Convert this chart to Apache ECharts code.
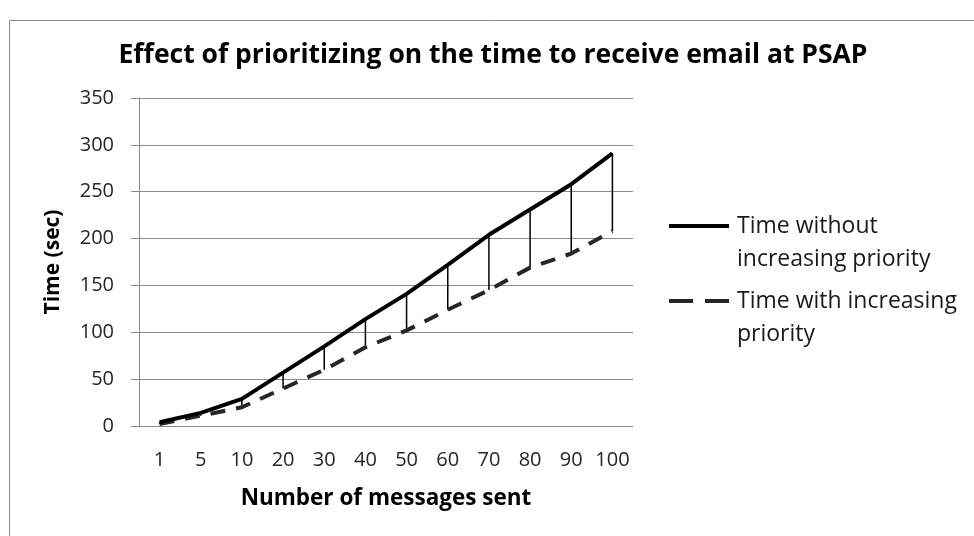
<!DOCTYPE html>
<html>
<head>
<meta charset="utf-8">
<script src="https://cdn.jsdelivr.net/npm/echarts@6/dist/echarts.min.js"></script>
<style>html,body{margin:0;padding:0;background:#fff}#c{width:974px;height:536px}</style>
</head>
<body>
<div id="c"></div>
<script>
const categories = ['1','5','10','20','30','40','50','60','70','80','90','100'];
const timeWithout = [4,14,29,57,85,114,141,172,204,231,258,291];
const timeWith = [2,11,20,40,60,84,102,124,145,169,184,208];
const seriesNames = ['Time without\nincreasing priority', 'Time with increasing\npriority'];
const yTicks = {min: 0, max: 350, interval: 50};

const FONT = 'Open Sans';
const chart = echarts.init(document.getElementById('c'), null, {renderer: 'canvas'});
const legendText = {fontFamily: FONT, fontSize: 23, color: '#1a1a1a', lineHeight: 33, padding: [0, 0, 0, 3]};
const legendBase = {
  left: 667, itemWidth: 60, itemHeight: 14, itemGap: 0, padding: 0,
  textStyle: legendText, selectedMode: false,
  itemStyle: {opacity: 0, borderWidth: 0},
  formatter: function (name) { return '\n' + name; }
};
chart.setOption({
  animation: false,
  backgroundColor: '#fff',
  title: {
    text: 'Effect of prioritizing on the time to receive email at PSAP',
    left: 492, top: 37, textAlign: 'center',
    textStyle: {fontFamily: FONT, fontWeight: 'bold', fontSize: 26.5, color: '#000'}
  },
  graphic: [{
    type: 'rect', shape: {x: 9.5, y: 20.5, width: 990, height: 600},
    style: {fill: 'none', stroke: '#8a8a8a', lineWidth: 1}, silent: true, z: -1
  }],
  legend: [
    Object.assign({}, legendBase, {data: [seriesNames[0]], top: 226 - 49.5, lineStyle: {width: 4}}),
    Object.assign({}, legendBase, {data: [seriesNames[1]], top: 301 - 49.5, lineStyle: {width: 4, type: [24, 12]}})
  ],
  grid: {left: 139, right: 341, top: 98, bottom: 110},
  xAxis: {
    type: 'category', data: categories, boundaryGap: true,
    axisLine: {show: true, lineStyle: {color: '#8c8c8c', width: 1}},
    axisTick: {show: false},
    axisLabel: {fontFamily: FONT, fontSize: 20, color: '#262626', margin: 24, interval: 0, hideOverlap: false},
    name: 'Number of messages sent', nameLocation: 'middle', nameGap: 61,
    nameTextStyle: {fontFamily: FONT, fontWeight: 'bold', fontSize: 22.5, color: '#000'}
  },
  yAxis: {
    type: 'value', min: yTicks.min, max: yTicks.max, interval: yTicks.interval,
    axisLine: {show: true, lineStyle: {color: '#8c8c8c', width: 1}},
    axisTick: {show: true, length: 8, lineStyle: {color: '#8c8c8c'}},
    splitLine: {show: true, lineStyle: {color: '#8c8c8c', width: 1}},
    axisLabel: {fontFamily: FONT, fontSize: 20, color: '#262626', margin: 25},
    name: 'Time (sec)', nameLocation: 'middle', nameGap: 75, nameRotate: 90,
    nameTextStyle: {fontFamily: FONT, fontWeight: 'bold', fontSize: 21, color: '#000'}
  },
  series: [
    {
      type: 'custom', name: 'drop', z: 1, silent: true,
      data: categories.map((c, i) => [i, timeWith[i], timeWithout[i]]),
      encode: {x: 0, y: [1, 2]},
      renderItem: function (params, api) {
        const lo = api.coord([api.value(0), api.value(1)]);
        const hi = api.coord([api.value(0), api.value(2)]);
        return {type: 'line', shape: {x1: lo[0], y1: lo[1], x2: hi[0], y2: hi[1]},
          style: {stroke: '#000', lineWidth: 1.5}};
      }
    },
    {
      type: 'line', name: seriesNames[0], data: timeWithout, symbol: 'none', z: 3,
      lineStyle: {color: '#000', width: 4}, itemStyle: {color: '#000'}
    },
    {
      type: 'line', name: seriesNames[1], data: timeWith, symbol: 'none', z: 2,
      lineStyle: {color: '#262626', width: 4, type: [15, 11]}, itemStyle: {color: '#262626'}
    }
  ]
});
chart.setOption({title: {left: 488}});
</script>
</body>
</html>
